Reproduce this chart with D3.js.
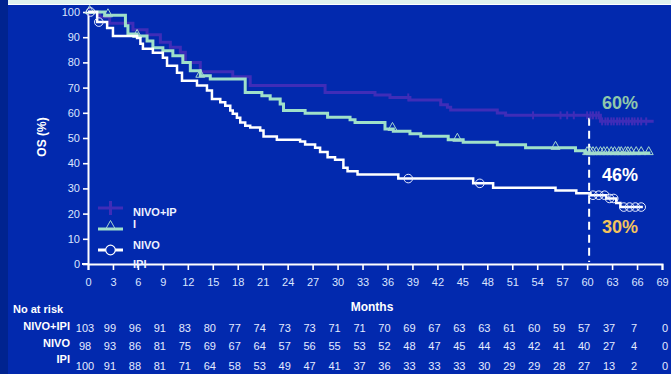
<!DOCTYPE html>
<html><head><meta charset="utf-8">
<script src="https://cdn.jsdelivr.net/npm/d3@7"></script>
<style>html,body{margin:0;padding:0;background:#0229ae;}svg{display:block;}</style>
</head><body>
<svg id="c" width="671" height="374"></svg>
<script>
// ---- data ----
const monthTicks = d3.range(0, 70, 3);
const yTicks = [0,10,20,30,40,50,60,70,80,90,100];

// Kaplan-Meier steps [month, OS %]
const nivoIpiSteps = [[0,100],[1.4,98],[2.6,95.5],[5.4,93],[7.1,91],[8.7,88],[9.9,86],[11.1,84],[11.7,80],[13.5,76.3],[17.4,74.3],[19.5,70.8],[28.5,68.1],[34.5,67.1],[36.3,66.1],[38.7,65.1],[42.4,63.2],[43.2,62.2],[43.6,61.1],[49.2,59.9],[50.2,59],[61.6,56.6],[68,56.6]];
const nivoSteps = [[0,100],[2,98.7],[4.5,94.5],[4.8,91.3],[5.9,90.5],[7.1,88.5],[7.8,85.8],[9,84.6],[10.2,82.6],[11.4,80],[12.3,76.7],[13.5,74.7],[14.7,73.4],[18.9,68.1],[20.9,66.8],[21.9,65.5],[23.1,63.5],[23.5,60.9],[26.1,59.8],[28.8,58.2],[31.5,57.2],[32.1,56.2],[35.7,53.6],[36.7,52.7],[38.7,51.7],[40,50.7],[43.3,49.3],[45.1,48.3],[49.2,47.3],[52.6,46.1],[58.6,44.9],[59.8,44],[67.6,44]];
const ipiSteps = [[0,100],[1.1,96],[2.3,93.7],[3,90.5],[5.9,89.7],[6.3,87.4],[6.6,85.4],[7.8,83.8],[9,81.8],[9.5,78.7],[10.7,75.9],[11.3,72.7],[13.1,70.8],[14.3,68.8],[14.9,65.5],[15.9,64.2],[16.5,62.8],[17.1,60.9],[17.4,59.6],[17.9,58],[18.3,56.2],[18.9,54.9],[19.5,54.2],[20.7,53],[21.1,50.6],[22.7,49.3],[25.5,48.6],[26.1,47.4],[27.3,46.1],[27.9,44.4],[28.8,42.4],[29.7,41.4],[30.7,38.2],[31.2,36.8],[32.4,35.5],[37.3,33.9],[46.3,32],[48.7,30.3],[56.2,29.2],[58.7,28.1],[60.4,27.3],[62.3,26],[63.5,24.2],[64,22.6],[66.7,22.6]];

// censoring months
const nivoIpiCensor = [0.2,38.5,53.5,56.8,57.6,58.4,60,60.4,60.7,61.1,61.4,61.8,62.2,62.5,62.9,63.2,63.6,63.9,64.3,64.7,65,65.4,65.7,66.1,66.5,67.1];
const nivoCensor = [0.2,2.4,5.9,13.5,36.6,44.4,56.2,60,60.4,60.7,61.1,61.6,62,62.4,62.9,63.3,63.8,64.1,64.6,64.9,65.3,65.9,66.5,67.4];
const ipiCensor = [0.3,1.3,38.5,47.1,60.7,61.4,62.1,62.7,63.2,64.4,65.1,65.8,66.5];

// numbers at risk
const riskNivoIpi = [103,99,96,91,83,80,77,74,73,73,71,71,70,69,67,63,63,61,60,59,57,37,7,0];
const riskNivo = [98,93,86,81,75,69,67,64,57,56,55,53,52,48,47,45,44,43,42,41,40,27,4,0];
const riskIpi = [100,91,88,81,71,64,58,53,49,47,41,37,36,33,33,33,30,29,29,28,27,13,2,0];
const riskRowLabels = ["NIVO+IPI","NIVO","IPI"];
const legendLabels = ["NIVO+IP","I","NIVO","IPI"];
const pctLabels = ["60%","46%","30%"];
const landmarkMonth = 60;

// ---- drawing ----
const svg = d3.select("#c");
const FONT = "'Liberation Sans', Arial, sans-serif";
const C = {bg:"#0229ae", purple:"#3f2db8", green:"#9fe0c9", white:"#ffffff", tick:"#dbe5ff"};

svg.append("rect").attr("width",671).attr("height",374).attr("fill",C.bg);
svg.append("rect").attr("x",0).attr("y",0).attr("width",8).attr("height",374).attr("fill","#00238f");
svg.append("rect").attr("x",8).attr("y",0).attr("width",663).attr("height",4).attr("fill","#dff2ef");
svg.append("line").attr("x1",8).attr("x2",671).attr("y1",4.5).attr("y2",4.5).attr("stroke","#ffffff").attr("stroke-width",1);

const x = d3.scaleLinear().domain([0,69]).range([88,662]);
const y = d3.scaleLinear().domain([0,100]).range([264,12]);

// axes
const gx = svg.append("g").attr("transform","translate(0,264)")
  .call(d3.axisBottom(x).tickValues(monthTicks).tickSize(6).tickSizeOuter(6).tickFormat(d3.format("d")));
gx.select(".domain").attr("stroke","#fff").attr("stroke-width",2);
gx.selectAll(".tick line").attr("stroke","#fff").attr("stroke-width",1.6);
gx.selectAll(".tick text").attr("fill",C.tick).attr("font-size",11).attr("font-family",FONT).attr("dy","1.15em");
svg.append("line").attr("x1",82).attr("x2",89).attr("y1",264).attr("y2",264).attr("stroke","#fff").attr("stroke-width",2);

const gy = svg.append("g").attr("transform","translate(88,0)")
  .call(d3.axisLeft(y).tickValues(yTicks).tickSize(5).tickSizeOuter(0));
gy.select(".domain").attr("stroke","#fff").attr("stroke-width",2);
gy.selectAll(".tick line").attr("stroke","#fff").attr("stroke-width",1.6);
gy.selectAll(".tick text").attr("fill",C.tick).attr("font-size",11).attr("font-family",FONT).attr("x",-8);

svg.append("text").attr("transform","translate(46,137) rotate(-90)").attr("text-anchor","middle")
  .attr("fill","#fff").attr("font-weight","bold").attr("font-size",12).attr("font-family",FONT).text("OS (%)");
svg.append("text").attr("x",372).attr("y",311).attr("text-anchor","middle")
  .attr("fill","#fff").attr("font-weight","bold").attr("font-size",12).attr("font-family",FONT).text("Months");

// landmark dashed line
svg.append("line").attr("x1",x(landmarkMonth)+2).attr("x2",x(landmarkMonth)+2)
  .attr("y1",y(58)).attr("y2",262).attr("stroke","#fff").attr("stroke-width",2).attr("stroke-dasharray","8,5");

// curves
const line = d3.line().x(d=>x(d[0])).y(d=>y(d[1])).curve(d3.curveStepAfter);
function survAt(steps,m){let s=steps[0][1];for(const st of steps){if(st[0]<=m)s=st[1];}return s;}

const series = [
  {steps:nivoIpiSteps, censor:nivoIpiCensor, color:C.purple, w:3, mark:"plus"},
  {steps:nivoSteps, censor:nivoCensor, color:C.green, w:3, mark:"tri"},
  {steps:ipiSteps, censor:ipiCensor, color:C.white, w:2.5, mark:"circ"}
];
const triPath = "M0,-4.5L4.5,3.5L-4.5,3.5Z";

series.forEach(s=>{
  svg.append("path").datum(s.steps).attr("d",line).attr("fill","none")
    .attr("stroke",s.color).attr("stroke-width",s.w).attr("stroke-linejoin","miter");
  const g = svg.append("g");
  s.censor.forEach(m=>{
    const cx = x(m), cy = y(survAt(s.steps,m));
    if(s.mark==="plus"){
      g.append("line").attr("x1",cx).attr("x2",cx).attr("y1",cy-4).attr("y2",cy+4)
        .attr("stroke",s.color).attr("stroke-width",2);
    } else if(s.mark==="tri"){
      g.append("path").attr("d",triPath).attr("transform",`translate(${cx},${cy-2})`)
        .attr("fill","none").attr("stroke","#a6d8cf").attr("stroke-width",1);
    } else {
      g.append("circle").attr("cx",cx).attr("cy",cy).attr("r",4.3)
        .attr("fill","none").attr("stroke","#e8eeff").attr("stroke-width",1);
    }
  });
});

// percent labels
const pctColors = ["#8fc8ab","#ffffff","#f4c35c"];
const pctY = [109,181,233];
pctLabels.forEach((t,i)=>{
  svg.append("text").attr("x",620).attr("y",pctY[i]).attr("text-anchor","middle")
    .attr("fill",pctColors[i]).attr("font-weight","bold").attr("font-size",18).attr("font-family",FONT).text(t);
});

// legend
const lg = svg.append("g");
lg.append("line").attr("x1",98).attr("x2",123).attr("y1",208).attr("y2",208).attr("stroke",C.purple).attr("stroke-width",3);
lg.append("line").attr("x1",110.5).attr("x2",110.5).attr("y1",201).attr("y2",215).attr("stroke",C.purple).attr("stroke-width",3);
lg.append("line").attr("x1",98).attr("x2",123).attr("y1",229).attr("y2",229).attr("stroke",C.green).attr("stroke-width",3);
lg.append("path").attr("d",triPath).attr("transform","translate(110.5,225)").attr("fill","none").attr("stroke","#a6d8cf").attr("stroke-width",1);
lg.append("line").attr("x1",98).attr("x2",123).attr("y1",250).attr("y2",250).attr("stroke","#fff").attr("stroke-width",3);
lg.append("circle").attr("cx",110.5).attr("cy",250).attr("r",4.8).attr("fill",C.bg).attr("stroke","#fff").attr("stroke-width",1.2);
const legY = [216,228,249,268];
legendLabels.forEach((t,i)=>{
  lg.append("text").attr("x",133).attr("y",legY[i]).attr("fill","#eef2ff").attr("font-weight","bold")
    .attr("font-size",11).attr("font-family",FONT).text(t);
});

// numbers at risk
svg.append("text").attr("x",13).attr("y",313).attr("fill","#fff").attr("font-weight","bold")
  .attr("font-size",11).attr("font-family",FONT).text("No at risk");
const rows = [riskNivoIpi, riskNivo, riskIpi];
const labelY = [330,347,363];
const numY = [332,350,370];
rows.forEach((r,i)=>{
  svg.append("text").attr("x",70).attr("y",labelY[i]).attr("text-anchor","end").attr("fill","#fff")
    .attr("font-weight","bold").attr("font-size",11).attr("font-family",FONT).text(riskRowLabels[i]);
  svg.append("g").selectAll("text").data(r).join("text")
    .attr("x",(d,j)=>x(monthTicks[j]) - (j===r.length-1 ? -3 : 3))
    .attr("y",numY[i]).attr("text-anchor","middle").attr("fill","#e4ebff")
    .attr("font-size",11).attr("font-family",FONT).text(d=>d);
});
</script>
</body></html>
